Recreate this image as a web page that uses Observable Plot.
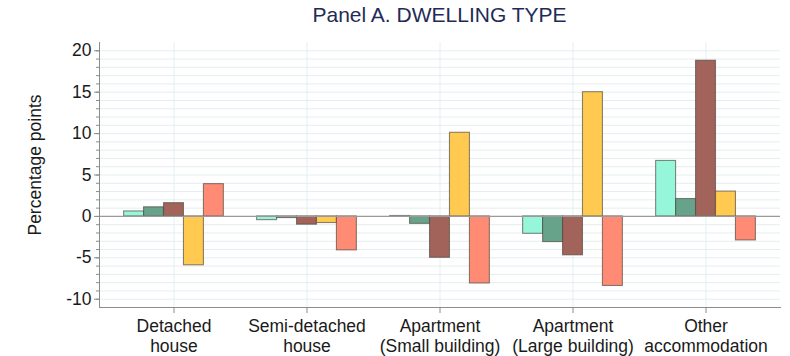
<!DOCTYPE html>
<html>
<head>
<meta charset="utf-8">
<script src="https://cdn.jsdelivr.net/npm/d3@7"></script>
<script src="https://cdn.jsdelivr.net/npm/@observablehq/plot@0.6"></script>
<style>
  body { margin: 0; background: #fff; font-family: "Liberation Sans", Arial, Helvetica, sans-serif; }
  #title {
    height: 30px; line-height: 30px; box-sizing: border-box;
    padding-left: 99px; padding-right: 10px;
    text-align: center; font-size: 21px; color: #1f2b57;
  }
  #chart svg { display: block; }
</style>
</head>
<body>
<div id="title">Panel A. DWELLING TYPE</div>
<div id="chart"></div>
<script>
// Dwelling-type categories (x axis labels, two lines each)
const categories = [
  "Detached\nhouse",
  "Semi-detached\nhouse",
  "Apartment\n(Small building)",
  "Apartment\n(Large building)",
  "Other\naccommodation"
];

// Five series, one value per category (percentage points)
const seriesNames = ["Series 1", "Series 2", "Series 3", "Series 4", "Series 5"];
const series1 = [0.6, -0.45, 0.05, -2.1, 6.7];
const series2 = [1.1, -0.2, -0.9, -3.1, 2.1];
const series3 = [1.6, -1.0, -5.0, -4.7, 18.8];
const series4 = [-5.9, -0.8, 10.1, 15.0, 3.0];
const series5 = [3.9, -4.1, -8.1, -8.4, -2.9];
const seriesValues = [series1, series2, series3, series4, series5];
const seriesColors = ["#96f6da", "#67a28b", "#a1635a", "#ffca4f", "#ff8b74"];

// Y tick labels
const majorTicks = [-10, -5, 0, 5, 10, 15, 20];
const minorTicks = d3.range(-10, 21);

// Each category occupies one unit on x; bars sit side by side around its center
const barWidth = 0.15;
const rows = [];
seriesValues.forEach((vals, j) => {
  vals.forEach((v, i) => {
    const x1 = i + (j - seriesValues.length / 2) * barWidth;
    rows.push({cat: i, series: seriesNames[j], value: v, x1, x2: x1 + barWidth});
  });
});

const gridColor = "#e4eef0";
const axisColor = "#8c8c8c";
const textColor = "#1a1a1a";
const fontSize = 17.5;

const chart = Plot.plot({
  width: 790,
  height: 326,
  marginTop: 12,
  marginBottom: 49,
  marginLeft: 99,
  marginRight: 10,
  style: {fontFamily: "'Liberation Sans', Arial, Helvetica, sans-serif", fontSize: `${fontSize}px`, color: textColor},
  x: {type: "linear", domain: [-0.56, 4.56], axis: null},
  y: {domain: [-11, 21], axis: null},
  color: {domain: seriesNames, range: seriesColors},
  marks: [
    Plot.gridY(minorTicks, {stroke: gridColor, strokeOpacity: 1}),
    Plot.gridX(d3.range(categories.length), {stroke: gridColor, strokeOpacity: 1}),
    Plot.rectY(rows, {
      x1: "x1", x2: "x2", y1: 0, y2: "value",
      fill: "series", stroke: "#4b463c", strokeOpacity: 0.65, strokeWidth: 1.1
    }),
    Plot.ruleY([0], {stroke: "#9a9a9a", strokeWidth: 1.4}),
    Plot.frame({anchor: "left", stroke: axisColor}),
    Plot.frame({anchor: "bottom", stroke: axisColor}),
    Plot.axisY(minorTicks, {tickSize: 3, text: null, stroke: axisColor, label: null}),
    Plot.axisY(majorTicks, {
      tickSize: 5, tickPadding: 3, stroke: axisColor, fontSize, fill: textColor,
      tickFormat: (d) => String(d), label: null
    }),
    Plot.axisX(d3.range(categories.length), {
      tickSize: 6, tickPadding: 5, stroke: axisColor, fontSize, lineHeight: 1.11,
      fill: textColor, tickFormat: (i) => categories[i], label: null
    }),
    Plot.text(["Percentage points"], {
      frameAnchor: "left", rotate: -90, dx: -64, dy: -10,
      fontSize, fill: textColor, textAnchor: "middle"
    })
  ]
});

document.getElementById("chart").appendChild(chart);
</script>
</body>
</html>
